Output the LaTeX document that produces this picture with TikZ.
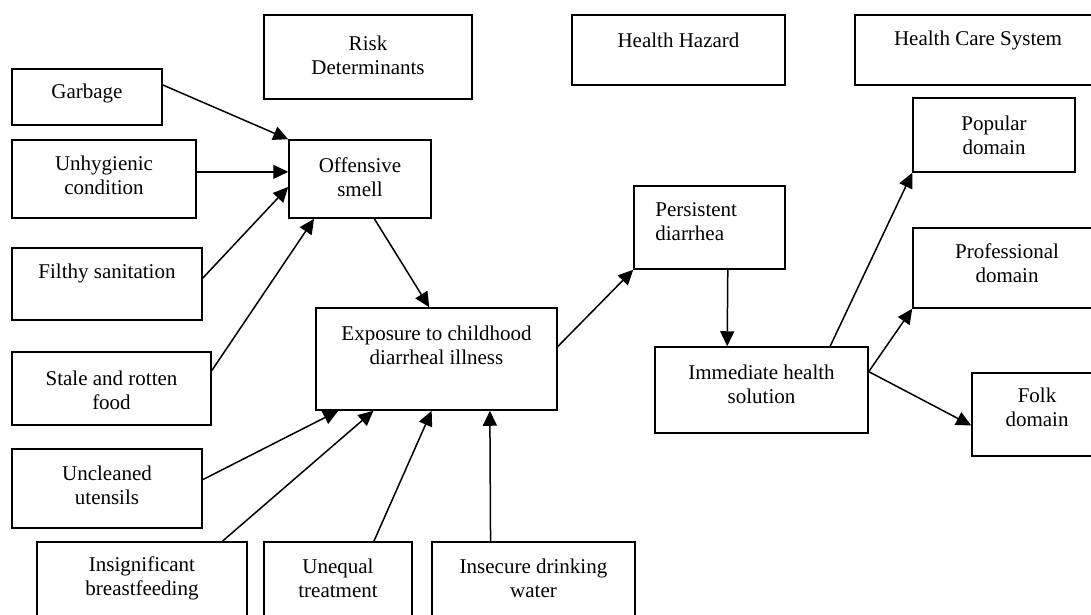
\documentclass[tikz,border=0pt]{standalone}
\usepackage{fontspec}
\setmainfont{Liberation Serif}
\usetikzlibrary{arrows.meta,calc}
\begin{document}
\begin{tikzpicture}[x=0.6pt,y=-0.6pt,
  bx/.style 2 args={draw,line width=0.9pt,inner sep=0pt,minimum width=#1*0.6pt,minimum height=#2*0.6pt},
  txt/.style={align=center,inner sep=0pt,font=\fontsize{12.6}{14.4}\selectfont},
  arr/.style={line width=0.9pt,-{Triangle[length=9pt,width=8.4pt]}}]
\useasboundingbox (0,0) rectangle (1091,614);
\clip (0,0) rectangle (1091,614);
% header boxes
\node[bx={208}{84}] (risk) at (368,57) {};
\node[txt] (risk-t) at (368,55) {Risk\\Determinants};
\node[bx={213}{70}] (hh) at (678.5,50) {};
\node[txt] (hh-t) at (678.5,40) {Health Hazard};
\node[bx={246}{70}] (hcs) at (978,50) {};
\node[txt] (hcs-t) at (978,40) {Health Care System};
% left column
\node[bx={150}{56}] (garbage) at (87,97) {};
\node[txt] (garbage-t) at (87,93) {Garbage};
\node[bx={184}{78}] (unhyg) at (104,179) {};
\node[txt] (unhyg-t) at (104,175) {Unhygienic\\condition};
\node[bx={190}{72}] (filthy) at (107,284) {};
\node[txt] (filthy-t) at (107,273) {Filthy sanitation};
\node[bx={199}{73}] (stale) at (111.5,388.5) {};
\node[txt] (stale-t) at (111.5,390) {Stale and rotten\\food};
\node[bx={190}{79}] (uncl) at (107,488.5) {};
\node[txt] (uncl-t) at (107,485) {Uncleaned\\utensils};
% middle
\node[bx={142}{78}] (offen) at (360,179) {};
\node[txt] (offen-t) at (360,177) {Offensive\\smell};
\node[bx={241}{102}] (expo) at (436.5,359) {};
\node[txt] (expo-t) at (436.5,345) {Exposure to childhood\\diarrheal illness};
% bottom row
\node[bx={210}{80}] (insig) at (142,582) {};
\node[txt] (insig-t) at (142,578) {Insignificant\\breastfeeding};
\node[bx={148}{80}] (uneq) at (338,582) {};
\node[txt] (uneq-t) at (338,578) {Unequal\\treatment};
\node[bx={203}{80}] (insec) at (533.5,582) {};
\node[txt] (insec-t) at (533.5,578) {Insecure drinking\\water};
% right part
\node[bx={151}{83}] (pers) at (709.5,227.5) {};
\node[txt,anchor=west,align=left] (pers-t) at (655,221.5) {Persistent\\diarrhea};
\node[bx={213}{86}] (imm) at (761.5,390) {};
\node[txt] (imm-t) at (761.5,384) {Immediate health\\solution};
\node[bx={162}{74}] (pop) at (994,135) {};
\node[txt] (pop-t) at (994,135) {Popular\\domain};
\node[bx={188}{80}] (prof) at (1007,268) {};
\node[txt] (prof-t) at (1007,263) {Professional\\domain};
\node[bx={130}{83}] (folk) at (1037,414.5) {};
\node[txt] (folk-t) at (1037,407) {Folk\\domain};
% connectors
\draw[arr] ($(garbage.north east)!0.29!(garbage.south east)$) -- (offen.north west);
\draw[arr] ($(unhyg.north east)!0.41!(unhyg.south east)$) -- ($(offen.north west)!0.41!(offen.south west)$);
\draw[arr] ($(filthy.north east)!0.42!(filthy.south east)$) -- ($(offen.north west)!0.6!(offen.south west)$);
\draw[arr] ($(stale.north east)!0.26!(stale.south east)$) -- ($(offen.south west)!0.18!(offen.south east)$);
\draw[arr] ($(offen.south west)!0.6!(offen.south east)$) -- ($(expo.north west)!0.47!(expo.north east)$);
\draw[arr] ($(uncl.north east)!0.39!(uncl.south east)$) -- ($(expo.south west)!0.095!(expo.south east)$);
\draw[arr] ($(insig.north west)!0.88!(insig.north east)$) -- ($(expo.south west)!0.24!(expo.south east)$);
\draw[arr] ($(uneq.north west)!0.74!(uneq.north east)$) -- ($(expo.south west)!0.48!(expo.south east)$);
\draw[arr] ($(insec.north west)!0.29!(insec.north east)$) -- ($(expo.south west)!0.72!(expo.south east)$);
\draw[arr] ($(expo.north east)!0.38!(expo.south east)$) -- (pers.south west);
\draw[arr] ($(pers.south west)!0.62!(pers.south east)$) -- ($(imm.north west)!0.34!(imm.north east)$);
\draw[arr] ($(imm.north west)!0.82!(imm.north east)$) -- (pop.south west);
\draw[arr] ($(imm.north east)!0.29!(imm.south east)$) -- (prof.south west);
\draw[arr] ($(imm.north east)!0.29!(imm.south east)$) -- ($(folk.north west)!0.63!(folk.south west)$);
\end{tikzpicture}
\end{document}
